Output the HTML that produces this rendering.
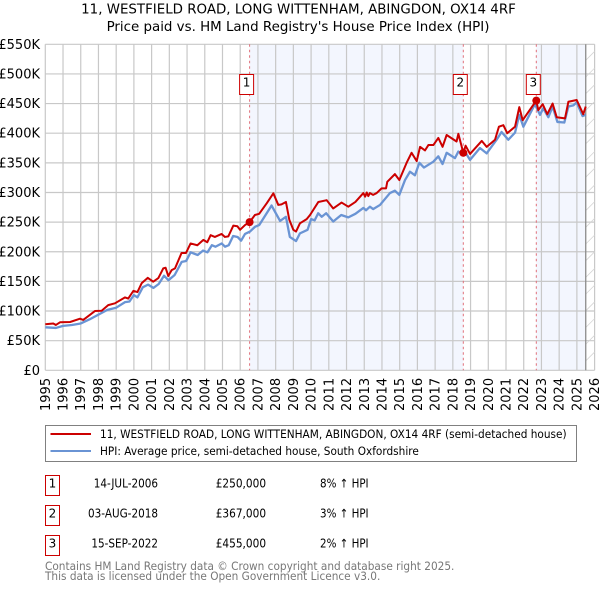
<!DOCTYPE html>
<html>
<head>
<meta charset="utf-8">
<style>
html,body{margin:0;padding:0;background:#fff;}
svg{display:block;}
text{font-family:"DejaVu Sans","Liberation Sans",sans-serif;fill:#000;}
</style>
</head>
<body>
<svg id="chart" width="600" height="590" viewBox="0 0 600 590" xmlns="http://www.w3.org/2000/svg"></svg>
<script>
const tickYears = [1995,1996,1997,1998,1999,2000,2001,2002,2003,2004,2005,2006,2007,2008,2009,2010,2011,2012,2013,2014,2015,2016,2017,2018,2019,2020,2021,2022,2023,2024,2025,2026];
const tickValues = [0,50,100,150,200,250,300,350,400,450,500,550];
const tickLabels = ["£0","£50K","£100K","£150K","£200K","£250K","£300K","£350K","£400K","£450K","£500K","£550K"];
const priceYears = [1995,1995.45,1995.6,1995.83,1996.4,1996.96,1997.14,1997.8,1998.18,1998.55,1998.93,1999.5,1999.68,1999.97,2000.2,2000.44,2000.78,2001.09,2001.38,2001.66,2001.79,2001.94,2002.13,2002.32,2002.69,2002.94,2003.2,2003.58,2003.92,2004.14,2004.33,2004.57,2004.95,2005.14,2005.33,2005.61,2005.84,2005.99,2006.27,2006.53,2006.83,2007.07,2007.5,2007.87,2008.15,2008.33,2008.58,2008.77,2009,2009.15,2009.37,2009.75,2009.94,2010.41,2010.88,2011.25,2011.72,2012.1,2012.5,2012.95,2013.05,2013.14,2013.23,2013.32,2013.5,2013.7,2013.98,2014.23,2014.3,2014.73,2014.98,2015.39,2015.67,2015.96,2016.15,2016.43,2016.62,2016.9,2017.18,2017.42,2017.65,2018.21,2018.31,2018.59,2018.72,2018.97,2019.63,2019.91,2020.38,2020.6,2020.85,2021.07,2021.51,2021.75,2021.94,2022.71,2022.82,2023.07,2023.33,2023.63,2023.86,2024.33,2024.52,2024.99,2025.36,2025.5];
const priceValues = [77.6,79,76.5,81,81.5,87,85,100,100.5,110,113,123,121,134,132,147,156,149.5,155.6,172,173,159,169,172,198,198,214,211,220,216,228,225,230,225,226,244,243,237,245,250,262,264,282,298.6,279,280,284,254,237,234,248,255,262,284,287,273,283,276,284,299,293,300,294,299,296,299,307,307,318,331,321,350,367,353,377,371,380,380,392,377,397,386,399,367,379,365,387,377,389,411,413.6,400,411,444,422,455,439,449,432,450,427,425,453,456,432,445];
const hpiYears = [1995,1995.6,1996,1996.5,1997,1997.5,1998,1998.5,1999,1999.5,1999.75,2000,2000.2,2000.5,2000.8,2001.1,2001.4,2001.7,2001.95,2002.3,2002.7,2002.95,2003.2,2003.6,2003.9,2004.15,2004.4,2004.6,2004.95,2005.15,2005.35,2005.6,2005.85,2006.05,2006.27,2006.55,2006.83,2007.07,2007.77,2008.25,2008.58,2008.8,2009.15,2009.37,2009.8,2010,2010.2,2010.4,2010.6,2010.85,2011.25,2011.7,2012.1,2012.5,2012.95,2013.1,2013.32,2013.5,2013.89,2014.45,2014.73,2014.98,2015.3,2015.58,2015.86,2016.11,2016.37,2016.9,2017.18,2017.42,2017.65,2018.12,2018.31,2018.59,2018.72,2018.97,2019.53,2019.91,2020.47,2020.75,2021.13,2021.51,2021.75,2021.98,2022.63,2022.92,2023.1,2023.39,2023.63,2023.9,2024.29,2024.52,2024.8,2024.99,2025.32,2025.5];
const hpiValues = [72.5,71.5,75,76.5,79,86,94,102,105.6,115,116,127,123,140,144.5,139,145.6,159.6,152,160.8,183,184.5,199,194.5,202,199,211,208.5,214,208.5,211,226.5,225,218.7,230,234,242,245,278,252,259,225,218,231,237,255,253,265,259,265,251,262,258,264,274,270,276,272,279,299,303,296,321,335,329,350,342,352,361,348,367,358,369,363,367,355,375,366,389,402,389,401,431,411,449,431,442,427,445,419,418,445,447,452,429,431];
const saleYears = [2006.53,2018.59,2022.71];
const saleValues = [250,367,455];
const saleLabels = ["1","2","3"];
const saleDates = ["14-JUL-2006","03-AUG-2018","15-SEP-2022"];
const salePrices = ["£250,000","£367,000","£455,000"];
const saleDeltas = ["8% ↑ HPI","3% ↑ HPI","2% ↑ HPI"];
const dataEndYear = 2025.5;

const NS = "http://www.w3.org/2000/svg";
const svg = document.getElementById("chart");
const L = 45.3, R = 594.6, T = 44.3, B = 370.3;
const x = y => L + (y - 1995) * (R - L) / 31;
const yv = v => B - v * (B - T) / 550;
function el(tag, attrs, parent, txt) {
  const e = document.createElementNS(NS, tag);
  for (const k in attrs) e.setAttribute(k, attrs[k]);
  if (txt !== undefined) e.textContent = txt;
  (parent || svg).appendChild(e);
  return e;
}
function poly(xs, ys) { return xs.map((d, i) => x(d).toFixed(2) + "," + yv(ys[i]).toFixed(2)).join(" "); }

// shaded ownership bands
let band = el("rect", {x:x(saleYears[0]), y:T, width:x(saleYears[1])-x(saleYears[0]), height:B-T, fill:"#f3f6fe"});


band = el("rect", {x:x(saleYears[2]), y:T, width:x(dataEndYear)-x(saleYears[2]), height:B-T, fill:"#f3f6fe"});



// gridlines
tickYears.forEach(t => {
  const g = el("line", {x1:x(t), x2:x(t), y1:T, y2:B, stroke:"#c8c8c8", "stroke-width":1.2});
  
  
});
tickValues.forEach(t => {
  const g = el("line", {x1:L, x2:R, y1:yv(t), y2:yv(t), stroke:"#c8c8c8", "stroke-width":1.2});
  
  
});

// hatched no-data region
const hatch = el("g", {stroke:"#d4d4d4", "stroke-width":0.8});


const hx0 = x(dataEndYear);
for (let yy = T + 16; yy <= B + 2; yy += 16.7) {
  const dx = R - hx0;
  el("line", {x1:hx0, y1:Math.min(yy, B), x2:R, y2:yy - dx}, hatch);
}
const endLine = el("line", {x1:hx0, x2:hx0, y1:T, y2:B, stroke:"#8a8a8a", "stroke-width":1.3});



// sale date dashed lines
saleYears.forEach(d => {
  const s = el("line", {x1:x(d), x2:x(d), y1:T, y2:B, stroke:"#e0707a", "stroke-width":1, "stroke-dasharray":"2.5 3"});
  
  
});

// series
const hpiLine = el("polyline", {points:poly(hpiYears, hpiValues), fill:"none", stroke:"#6a94d4", "stroke-width":2.3, "stroke-linejoin":"round"});


const priceLine = el("polyline", {points:poly(priceYears, priceValues), fill:"none", stroke:"#cc0000", "stroke-width":2, "stroke-linejoin":"round"});



// sale markers and number boxes
saleYears.forEach((d, i) => {
  const m = el("circle", {cx:x(d), cy:yv(saleValues[i]), r:4, fill:"#cc0000"});
  
  
  const bx = x(d) - 10;
  const b = el("rect", {x:bx, y:74.5, width:14, height:20, fill:"#fff", stroke:"#cc0000", "stroke-width":1});
  
  
  const t = el("text", {x:bx + 7, y:86.5, "text-anchor":"middle", "font-size":12}, svg, saleLabels[i]);
  
  
});

// axis labels
tickValues.forEach((t, i) => {
  const l = el("text", {x:40, y:yv(t) + 4.5, "text-anchor":"end", "font-size":13}, svg, tickLabels[i]);
  
  
});
tickYears.forEach(t => {
  const l = el("text", {transform:"translate(" + (x(t) + 4.5).toFixed(2) + ",411) rotate(-90)", "font-size":13}, svg, String(t));
  
  
});

// sales table
saleYears.forEach((d, i) => {
  const top = 475.5 + i * 30;
  const base = top + 12;
  const b = el("rect", {x:45.5, y:top, width:14, height:20, fill:"#fff", stroke:"#cc0000", "stroke-width":1});
  
  
  const n = el("text", {x:52.5, y:base, "text-anchor":"middle", "font-size":12}, svg, saleLabels[i]);
  
  
  const a = el("text", {transform:"translate(158," + base + ") scale(.87,1)", "text-anchor":"end", "font-size":12}, svg, saleDates[i]);
  
  
  const p = el("text", {transform:"translate(215.7," + base + ") scale(.88,1)", "font-size":12}, svg, salePrices[i]);
  
  
  const h = el("text", {transform:"translate(320," + base + ") scale(.86,1)", "font-size":12}, svg, saleDeltas[i]);
  
  
});
</script>
<svg style="position:absolute;left:0;top:0;pointer-events:none" width="600" height="590" viewBox="0 0 600 590" xmlns="http://www.w3.org/2000/svg">
  <text x="298.5" y="13.5" text-anchor="middle" font-size="13.4">11, WESTFIELD ROAD, LONG WITTENHAM, ABINGDON, OX14 4RF</text>
  <text x="298" y="31" text-anchor="middle" font-size="13.4">Price paid vs. HM Land Registry's House Price Index (HPI)</text>
  <g>
    <rect x="45.5" y="425.5" width="531" height="36" fill="#fff" stroke="#808080" stroke-width="1"/>
    <line x1="50.5" x2="91" y1="434" y2="434" stroke="#cc0000" stroke-width="2"/>
    <text transform="translate(100,438) scale(.9,1)" font-size="11.7">11, WESTFIELD ROAD, LONG WITTENHAM, ABINGDON, OX14 4RF (semi-detached house)</text>
    <line x1="50.5" x2="91" y1="451" y2="451" stroke="#6a94d4" stroke-width="2"/>
    <text transform="translate(100,455) scale(.9,1)" font-size="11.7">HPI: Average price, semi-detached house, South Oxfordshire</text>
  </g>
  <text transform="translate(45,570) scale(.9,1)" font-size="11.7" style="fill:#777">Contains HM Land Registry data © Crown copyright and database right 2025.</text>
  <text transform="translate(45,580) scale(.9,1)" font-size="11.7" style="fill:#777">This data is licensed under the Open Government Licence v3.0.</text>
</svg>
</body>
</html>
